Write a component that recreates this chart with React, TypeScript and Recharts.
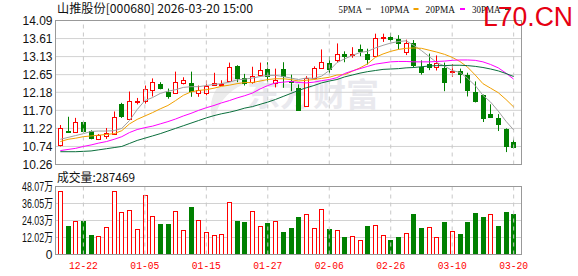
import React from 'react';
import { ComposedChart, Bar, Line, XAxis, YAxis, CartesianGrid, ReferenceLine } from 'recharts';

// trading days shown on the chart
const dates = [
  '12-17', '12-18', '12-19', '12-22', '12-23', '12-24', '12-25', '12-26', '12-29', '12-30',
  '12-31', '01-05', '01-06', '01-07', '01-08', '01-09', '01-12', '01-13', '01-14', '01-15',
  '01-16', '01-19', '01-20', '01-21', '01-22', '01-23', '01-26', '01-27', '01-28', '01-29',
  '01-30', '02-02', '02-03', '02-04', '02-05', '02-06', '02-09', '02-10', '02-11', '02-12',
  '02-13', '02-24', '02-25', '02-26', '02-27', '03-02', '03-03', '03-04', '03-05', '03-06',
  '03-09', '03-10', '03-11', '03-12', '03-13', '03-16', '03-17', '03-18', '03-19', '03-20',
];

const opens = [
  10.77, 11.16, 11.13, 11.4, 11.14, 10.93, 11.03, 11.07, 11.87, 11.48,
  11.91, 11.95, 12.23, 12.41, 12.2, 12.17, 12.42, 12.44, 12.17, 12.17,
  12.37, 12.37, 12.49, 12.88, 12.57, 12.46, 12.63, 12.81, 12.44, 12.79,
  12.49, 12.3, 11.81, 12.57, 12.83, 12.96, 13.03, 13.19, 13.16, 13.34,
  13.2, 13.14, 13.63, 13.65, 13.61, 13.26, 13.5, 12.84, 12.92, 12.85,
  12.83, 12.71, 12.76, 12.65, 12.2, 12.1, 11.59, 11.51, 11.21, 10.86,
];
const highs = [
  11.31, 11.53, 11.5, 11.42, 11.17, 11.07, 11.23, 11.67, 11.9, 12.2,
  12.03, 12.36, 12.55, 12.45, 12.28, 12.73, 12.58, 12.73, 12.36, 12.49,
  12.7, 12.5, 12.97, 12.9, 12.67, 12.86, 12.97, 12.98, 12.81, 12.98,
  12.65, 12.39, 12.61, 12.87, 13.32, 13.13, 13.48, 13.27, 13.38, 13.45,
  13.34, 13.74, 13.74, 13.76, 13.7, 13.58, 13.57, 13.03, 13.21, 13.16,
  12.97, 12.93, 12.81, 12.7, 12.47, 12.12, 11.86, 11.6, 11.22, 10.95,
];
const lows = [
  10.74, 11.13, 11.11, 11.11, 10.93, 10.91, 10.94, 11.05, 11.5, 11.46,
  11.86, 11.88, 12.07, 12.26, 12.01, 12.15, 12.39, 12.06, 12.06, 12.1,
  12.36, 12.36, 12.46, 12.45, 12.36, 12.41, 12.61, 12.45, 12.31, 12.3,
  12.21, 11.7, 11.79, 12.54, 12.81, 12.68, 12.97, 12.98, 13.1, 13.14,
  12.92, 13.12, 13.52, 13.52, 13.32, 13.17, 12.84, 12.65, 12.77, 12.76,
  12.21, 12.59, 12.42, 12.07, 11.91, 11.39, 11.5, 11.15, 10.59, 10.69,
];
const closes = [
  11.24, 11.13, 11.4, 11.14, 10.97, 11.05, 11.09, 11.53, 11.54, 11.96,
  11.96, 12.27, 12.45, 12.29, 12.08, 12.46, 12.5, 12.21, 12.24, 12.34,
  12.44, 12.41, 12.85, 12.55, 12.43, 12.61, 12.78, 12.61, 12.52, 12.61,
  12.46, 11.72, 12.57, 12.83, 12.99, 12.81, 13.19, 13.15, 13.2, 13.27,
  13.07, 13.63, 13.65, 13.61, 13.5, 13.5, 12.91, 12.73, 12.86, 12.97,
  12.45, 12.75, 12.67, 12.24, 11.94, 11.5, 11.52, 11.34, 10.75, 10.72,
];

// moving averages
const ma5 = [
  10.93, 10.98, 11.03, 11.08, 11.14, 11.15, 11.15, 11.16, 11.22, 11.43,
  11.72, 11.96, 12.04, 12.15, 12.21, 12.25, 12.31, 12.33, 12.33, 12.36,
  12.39, 12.41, 12.45, 12.51, 12.53, 12.56, 12.6, 12.63, 12.63, 12.6,
  12.56, 12.52, 12.56, 12.55, 12.61, 12.76, 12.97, 13.07, 13.16, 13.24,
  13.27, 13.36, 13.43, 13.49, 13.53, 13.55, 13.43, 13.29, 13.13, 12.97,
  12.88, 12.76, 12.71, 12.55, 12.36, 12.1, 11.92, 11.68, 11.41, 11.18,
];
const ma10 = [
  10.87, 10.93, 10.96, 11.0, 11.02, 11.04, 11.06, 11.08, 11.16, 11.34,
  11.46, 11.55, 11.64, 11.74, 11.83, 11.96, 12.1, 12.19, 12.23, 12.25,
  12.29, 12.34, 12.37, 12.41, 12.44, 12.44, 12.48, 12.52, 12.54, 12.54,
  12.52, 12.48, 12.5, 12.52, 12.55, 12.58, 12.64, 12.65, 12.74, 12.83,
  12.94, 13.11, 13.2, 13.27, 13.32, 13.35, 13.36, 13.35, 13.3, 13.25,
  13.19, 13.11, 13.0, 12.85, 12.64, 12.41, 12.29, 12.17, 11.99, 11.79,
];
const ma20 = [
  10.63, 10.66, 10.69, 10.74, 10.78, 10.83, 10.87, 10.93, 11.0, 11.11,
  11.19, 11.24, 11.28, 11.34, 11.4, 11.47, 11.55, 11.62, 11.7, 11.77,
  11.83, 11.9, 11.96, 12.03, 12.09, 12.16, 12.27, 12.36, 12.43, 12.45,
  12.47, 12.44, 12.43, 12.45, 12.49, 12.52, 12.57, 12.68, 12.75, 12.81,
  12.87, 12.93, 12.96, 12.99, 13.0, 13.0, 12.99, 12.99, 12.99, 13.0,
  13.01, 13.03, 13.04, 13.04, 13.03, 12.99, 12.92, 12.83, 12.69, 12.53,
];
const ma30 = [
  10.6, 10.6, 10.6, 10.61, 10.62, 10.65, 10.68, 10.71, 10.74, 10.82,
  10.9, 10.96, 11.02, 11.08, 11.15, 11.22, 11.29, 11.36, 11.43, 11.5,
  11.56, 11.61, 11.65, 11.7, 11.76, 11.8, 11.86, 11.92, 11.99, 12.07,
  12.15, 12.23, 12.3, 12.36, 12.43, 12.48, 12.52, 12.59, 12.64, 12.69,
  12.73, 12.76, 12.79, 12.8, 12.81, 12.83, 12.84, 12.86, 12.88, 12.89,
  12.89, 12.9, 12.9, 12.89, 12.87, 12.84, 12.8, 12.75, 12.68, 12.6,
];

// volume in 万 shares, and whether its bar is drawn red (1) or green (0)
const volumes = [
  45.0, 20.4, 23.9, 23.9, 14.1, 13.1, 19.5, 44.8, 30.3, 31.7,
  18.1, 42.2, 27.4, 21.8, 21.8, 31.0, 17.6, 33.3, 24.6, 16.2,
  13.9, 14.8, 37.3, 23.5, 22.8, 31.0, 20.4, 22.1, 23.5, 15.7,
  19.0, 26.7, 28.9, 18.8, 32.2, 17.8, 17.6, 12.7, 13.1, 10.6,
  20.4, 20.9, 13.9, 9.9, 12.7, 15.3, 28.9, 19.0, 19.5, 12.5,
  23.2, 16.9, 14.8, 23.2, 29.6, 26.7, 28.9, 20.4, 30.3, 28.75,
];
const volumeUp = [
  1, 0, 1, 0, 0, 1, 1, 1, 1, 1,
  1, 1, 1, 0, 0, 1, 1, 0, 1, 1,
  1, 1, 1, 0, 0, 1, 1, 0, 1, 0,
  0, 0, 1, 1, 1, 0, 1, 0, 1, 1,
  0, 1, 1, 0, 0, 1, 0, 0, 1, 1,
  0, 1, 0, 0, 0, 0, 1, 0, 0, 0,
];

const labelDates = ['12-22', '01-05', '01-15', '01-27', '02-06', '02-26', '03-10', '03-20'];
const priceTicks = [10.26, 10.74, 11.22, 11.7, 12.18, 12.65, 13.13, 13.61, 14.09];
const volumeTicks = [0, 12.02, 24.03, 36.05, 48.07];

const RED = '#ff0000';
const GREEN = '#008000';
const GRID = '#d2d2d2';
const BORDER = '#999999';
const MA_COLORS = { ma5: '#a0a0a0', ma10: '#f0a000', ma20: '#ff00ff', ma30: '#0a6e3c' };

const rows = dates.map((date, i) => ({
  date,
  open: opens[i],
  high: highs[i],
  low: lows[i],
  close: closes[i],
  range: [lows[i], highs[i]],
  ma5: ma5[i],
  ma10: ma10[i],
  ma20: ma20[i],
  ma30: ma30[i],
  vol: volumes[i],
  volUp: volumeUp[i] === 1,
}));

const Candle = (props: any) => {
  const { x, y, width, height, payload } = props;
  if (x == null || y == null) return null;
  const top = Math.min(y, y + height);
  const h = Math.abs(height);
  const span = payload.high - payload.low || 1;
  const py = (v: number) => top + ((payload.high - v) / span) * h;
  const cx = Math.round(x + width / 2);
  const up = payload.close >= payload.open;
  const color = up ? RED : GREEN;
  const yo = py(payload.open);
  const yc = py(payload.close);
  const bTop = Math.round(Math.min(yo, yc));
  const bBot = Math.max(Math.round(Math.max(yo, yc)), bTop + 1);
  return (
    <g>
      <line x1={cx + 0.5} x2={cx + 0.5} y1={top} y2={top + h} stroke={color} strokeWidth={1} />
      <rect
        x={cx - 1.5}
        y={bTop + 0.5}
        width={4}
        height={bBot - bTop}
        fill={up ? '#ffffff' : color}
        stroke={color}
        strokeWidth={1}
      />
    </g>
  );
};

const VolumeBar = (props: any) => {
  const { x, y, width, height, payload } = props;
  if (x == null || y == null) return null;
  const cx = Math.round(x + width / 2);
  const top = Math.round(y);
  const bot = Math.round(y + height);
  if (payload.volUp) {
    return (
      <rect x={cx - 1.5} y={top + 0.5} width={4} height={bot - top - 1} fill="#ffffff" stroke={RED} strokeWidth={1} />
    );
  }
  return <rect x={cx - 2} y={top} width={5} height={bot - top} fill={GREEN} />;
};

const PriceTick = (props: any) => {
  const { y, payload } = props;
  return (
    <text x={52.5} y={y} dy="0.36em" textAnchor="end" fontSize={12} fill="#111"
      fontFamily="'Liberation Sans', Arial, sans-serif" textLength={30} lengthAdjust="spacingAndGlyphs">
      {Number(payload.value).toFixed(2)}
    </text>
  );
};

const VolumeTick = (props: any) => {
  const { y, payload } = props;
  const v = Number(payload.value);
  if (v === 0) {
    return (
      <text x={52.5} y={y} dy="0.36em" textAnchor="end" fontSize={12} fill="#111"
        fontFamily="'Liberation Sans', Arial, sans-serif">0</text>
    );
  }
  return (
    <text x={53} y={y} dy="0.36em" textAnchor="end" fontSize={12} fill="#111"
      fontFamily="'Liberation Sans', 'Noto Sans CJK SC', sans-serif" textLength={31} lengthAdjust="spacingAndGlyphs">
      {v.toFixed(2) + '万'}
    </text>
  );
};

const DateTick = (props: any) => {
  const { x, y, payload } = props;
  return (
    <text x={x} y={y + 14.5} textAnchor="middle" fontSize={11} fill={RED}
      fontFamily="'Liberation Mono', 'DejaVu Sans Mono', monospace" textLength={29} lengthAdjust="spacingAndGlyphs">
      {payload.value}
    </text>
  );
};

const legendItems = [
  { label: '5PMA', key: 'ma5', x: 338.5, w: 23.5, sx: 366 },
  { label: '10PMA', key: 'ma10', x: 380, w: 29.5, sx: 413.5 },
  { label: '20PMA', key: 'ma20', x: 425.5, w: 29.5, sx: 460 },
  { label: '30PMA', key: 'ma30', x: 472, w: 28.5, sx: 505 },
];

export default function App() {
  return (
    <div style={{ position: 'absolute', left: 0, top: 0, width: 578, height: 276, background: '#fff', overflow: 'hidden' }}>
      {/* watermark under the plot */}
      <svg width={578} height={276} style={{ position: 'absolute', left: 0, top: 0 }}>
        <path d="M 232 76 C 214 84 206 104 214 122 C 216 106 226 92 244 84 Z" fill="#ececec" />
        <text x={247} y={106} fontSize={32} fontWeight="bold" fill="#e9e9ee"
          fontFamily="'Noto Sans CJK SC', sans-serif" textLength={132} lengthAdjust="spacingAndGlyphs">
          东方财富
        </text>
      </svg>

      <div style={{ position: 'absolute', left: 0, top: 0 }}>
        <ComposedChart width={578} height={180} data={rows}
          margin={{ top: 20.5, right: 56.5, bottom: 15.5, left: 0 }}>
          <CartesianGrid vertical={false} stroke={GRID} />
          <XAxis dataKey="date" hide padding={{ left: 1, right: 4 }} />
          <YAxis domain={[10.26, 14.09]} ticks={priceTicks} interval={0} width={55.5}
            axisLine={false} tickLine={false} tick={<PriceTick />} allowDataOverflow />
          {labelDates.map((d) => (
            <ReferenceLine key={d} x={d} stroke="#c8c8c8" strokeDasharray="4 4" />
          ))}
          <Bar dataKey="range" shape={<Candle />} barSize={5} isAnimationActive={false} />
          <Line type="linear" dataKey="ma5" stroke={MA_COLORS.ma5} strokeWidth={1} dot={false} activeDot={false} isAnimationActive={false} />
          <Line type="linear" dataKey="ma10" stroke={MA_COLORS.ma10} strokeWidth={1} dot={false} activeDot={false} isAnimationActive={false} />
          <Line type="linear" dataKey="ma20" stroke={MA_COLORS.ma20} strokeWidth={1} dot={false} activeDot={false} isAnimationActive={false} />
          <Line type="linear" dataKey="ma30" stroke={MA_COLORS.ma30} strokeWidth={1} dot={false} activeDot={false} isAnimationActive={false} />
        </ComposedChart>
      </div>

      <div style={{ position: 'absolute', left: 0, top: 170 }}>
        <ComposedChart width={578} height={106} data={rows}
          margin={{ top: 16.5, right: 56.5, bottom: 0, left: 0 }}>
          <CartesianGrid vertical={false} stroke={GRID} />
          <XAxis dataKey="date" padding={{ left: 1, right: 4 }} ticks={labelDates} interval={0}
            height={21.5} axisLine={false} tickLine={false} tickSize={0} tickMargin={0} tick={<DateTick />} />
          <YAxis domain={[0, 48.07]} ticks={volumeTicks} interval={0} width={55.5}
            axisLine={false} tickLine={false} tick={<VolumeTick />} allowDataOverflow />
          {labelDates.map((d) => (
            <ReferenceLine key={d} x={d} stroke="#c8c8c8" strokeDasharray="4 4" />
          ))}
          <Bar dataKey="vol" shape={<VolumeBar />} barSize={5} isAnimationActive={false} />
        </ComposedChart>
      </div>

      {/* panel frames */}
      <div style={{ position: 'absolute', left: 55, top: 20, width: 467, height: 145, border: `1px solid ${BORDER}`, boxSizing: 'border-box', pointerEvents: 'none' }} />
      <div style={{ position: 'absolute', left: 55, top: 186, width: 467, height: 69, border: `1px solid ${BORDER}`, boxSizing: 'border-box', pointerEvents: 'none' }} />

      {/* texts on top */}
      <svg width={578} height={276} style={{ position: 'absolute', left: 0, top: 0, pointerEvents: 'none' }}>
        <text x={57} y={13} fontSize={12} fill="#111" fontFamily="'Noto Sans CJK SC', sans-serif"
          textLength={196} lengthAdjust="spacingAndGlyphs">
          山推股份[000680] 2026-03-20 15:00
        </text>
        {legendItems.map((it) => (
          <g key={it.key}>
            <text x={it.x} y={12.5} fontSize={11} fill="#111" fontFamily="'Liberation Serif', serif"
              textLength={it.w} lengthAdjust="spacingAndGlyphs">
              {it.label}
            </text>
            <rect x={it.sx} y={8} width={5} height={2} fill={(MA_COLORS as any)[it.key]} />
          </g>
        ))}
        <text x={483} y={26} fontSize={27} fill="#e60012" fontFamily="'Liberation Sans', Arial, sans-serif"
          textLength={90} lengthAdjust="spacingAndGlyphs">
          L70.CN
        </text>
        <text x={57} y={182} fontSize={12} fill="#111" fontFamily="'Noto Sans CJK SC', sans-serif"
          textLength={78} lengthAdjust="spacingAndGlyphs">
          成交量:287469
        </text>
      </svg>
    </div>
  );
}
